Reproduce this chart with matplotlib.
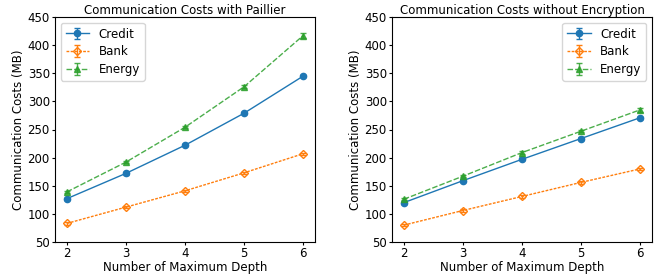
import matplotlib
matplotlib.use("Agg")
import matplotlib.pyplot as plt
import numpy as np

depths = [2, 3, 4, 5, 6]

paillier_credit = [127, 172, 222, 279, 345]
paillier_bank = [83, 112, 141, 173, 207]
paillier_energy = [139, 192, 254, 326, 417]
paillier_credit_err = [2, 2, 2, 2, 2]
paillier_bank_err = [2, 2, 2, 2, 2]
paillier_energy_err = [2, 2, 2, 3, 4]

plain_credit = [120, 159, 197, 234, 271]
plain_bank = [80, 106, 131, 156, 180]
plain_energy = [126, 167, 209, 247, 285]
plain_credit_err = [2, 2, 2, 2, 2]
plain_bank_err = [2, 2, 2, 2, 2]
plain_energy_err = [2, 2, 2, 2, 3]

FS = 8.5
plt.rcParams["font.size"] = FS


def draw(ax, credit, bank, energy, errs, title, legend_loc):
    ax.errorbar(depths, credit, yerr=errs[0], color="C0", marker="o", ls="-",
                lw=1.0, ms=4.5, capsize=2.5, elinewidth=1.0, label="Credit")
    ax.errorbar(depths, bank, yerr=errs[1], color="C1", marker="D", ls="--",
                lw=1.0, ms=4, mfc="none", mew=1.0, capsize=2.5,
                elinewidth=1.0, dashes=(2, 1), label="Bank")
    ax.errorbar(depths, energy, yerr=errs[2], color="C2", marker="^", ls="-.",
                lw=1.0, ms=4.5, capsize=2.5, elinewidth=1.0, dashes=(4, 1.5),
                alpha=0.85, label="Energy")
    ax.set_ylim(50, 450)
    ax.set_xticks(depths)
    ax.set_yticks(np.arange(50, 451, 50))
    ax.set_xlabel("Number of Maximum Depth", fontsize=FS, labelpad=0.5)
    ax.set_ylabel("Communication Costs (MB)", fontsize=FS, labelpad=2)
    ax.set_title(title, fontsize=FS, pad=2.5)
    ax.tick_params(labelsize=FS, length=2.5, pad=1.2)
    ax.legend(loc=legend_loc, fontsize=FS, handlelength=2.0,
              borderpad=0.4, labelspacing=0.4, handletextpad=0.8)


fig = plt.figure(figsize=(6.57, 2.75), dpi=100)
ax1 = fig.add_axes([55 / 657, 33 / 275, 260 / 657, 225 / 275])
ax2 = fig.add_axes([392 / 657, 33 / 275, 260 / 657, 225 / 275])

draw(ax1, paillier_credit, paillier_bank, paillier_energy,
     (paillier_credit_err, paillier_bank_err, paillier_energy_err),
     "Communication Costs with Paillier", "upper left")
draw(ax2, plain_credit, plain_bank, plain_energy,
     (plain_credit_err, plain_bank_err, plain_energy_err),
     "Communication Costs without Encryption", "upper right")

fig.savefig("out.png", dpi=100)
